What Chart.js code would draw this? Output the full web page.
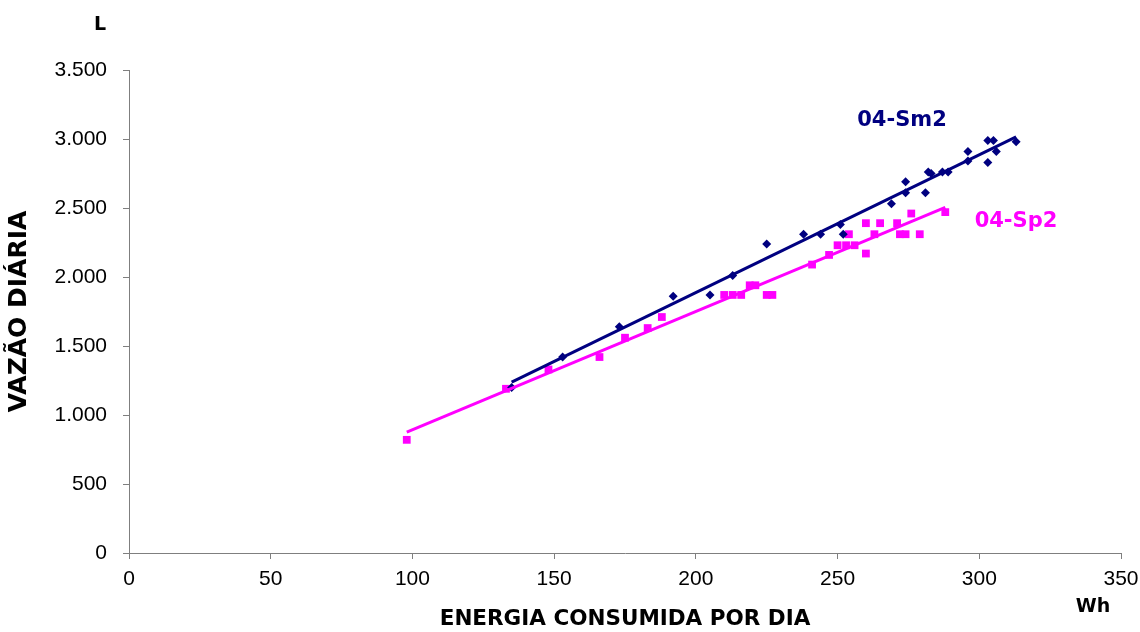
<!DOCTYPE html>
<html>
<head>
<meta charset="utf-8">
<script src="https://cdn.jsdelivr.net/npm/chart.js@4.4.1/dist/chart.umd.min.js"></script>
<style>
  html, body { margin: 0; padding: 0; background: #ffffff; }
  #wrap { width: 1140px; height: 632px; }
</style>
</head>
<body>
<div id="wrap"><canvas id="c" width="1140" height="632"></canvas></div>
<script>
// Daily flow (L) versus daily energy consumption (Wh) for two pumps
const sm2Energy = [135, 153, 173, 192, 205, 213, 225, 238, 244, 251, 252, 269, 274, 274, 281, 282, 283, 287, 289, 296, 296, 303, 305, 303, 306, 313];
const sm2Flow   = [1200, 1420, 1640, 1860, 1870, 2010, 2240, 2310, 2310, 2380, 2310, 2530, 2690, 2610, 2610, 2760, 2750, 2760, 2760, 2840, 2910, 2990, 2990, 2830, 2910, 2980];

const sp2Energy = [98, 133, 148, 166, 175, 183, 188, 210, 213, 216, 219, 221, 225, 227, 241, 247, 250, 253, 256, 254, 260, 265, 260, 263, 271, 272, 274, 279, 276, 288];
const sp2Flow   = [820, 1190, 1330, 1420, 1560, 1630, 1710, 1870, 1870, 1870, 1940, 1940, 1870, 1870, 2090, 2160, 2230, 2230, 2230, 2310, 2390, 2390, 2170, 2310, 2390, 2310, 2310, 2310, 2460, 2470];

const xTicks = [0, 50, 100, 150, 200, 250, 300, 350];
const yTicks = [0, 500, 1000, 1500, 2000, 2500, 3000, 3500];

const seriesNames = ['04-Sm2', '04-Sp2'];
const xTitle = 'ENERGIA CONSUMIDA POR DIA';
const yTitle = 'VAZÃO DIÁRIA';
const xUnit = 'Wh';
const yUnit = 'L';

const NAVY = '#000080';
const MAGENTA = '#ff00ff';

function toPoints(xs, ys) {
  return xs.map((x, i) => ({ x: x, y: ys[i] }));
}

// least-squares linear trend over the span of the data
function trend(xs, ys) {
  const n = xs.length;
  let sx = 0, sy = 0, sxx = 0, sxy = 0;
  for (let i = 0; i < n; i++) {
    sx += xs[i]; sy += ys[i]; sxx += xs[i] * xs[i]; sxy += xs[i] * ys[i];
  }
  const b = (n * sxy - sx * sy) / (n * sxx - sx * sx);
  const a = (sy - b * sx) / n;
  const lo = Math.min(...xs), hi = Math.max(...xs);
  return [{ x: lo, y: a + b * lo }, { x: hi, y: a + b * hi }];
}

function fmtThousands(v) {
  return String(v).replace(/\B(?=(\d{3})+(?!\d))/g, '.');
}

// free-standing labels: axis units and series names
const labelPlugin = {
  id: 'labels',
  afterDraw(chart) {
    const ctx = chart.ctx;
    ctx.save();
    ctx.textAlign = 'center';
    ctx.textBaseline = 'middle';
    ctx.fillStyle = '#000000';
    ctx.font = 'bold 19px "DejaVu Sans"';
    ctx.fillText(yUnit, 100, 25);
    ctx.fillText(xUnit, 1093, 607);
    ctx.font = 'bold 21px "DejaVu Sans"';
    ctx.fillStyle = NAVY;
    ctx.fillText(seriesNames[0], 902, 121);
    ctx.fillStyle = MAGENTA;
    ctx.fillText(seriesNames[1], 1016, 222);
    ctx.restore();
  }
};

new Chart(document.getElementById('c'), {
  type: 'scatter',
  data: {
    datasets: [
      {
        label: seriesNames[0] + ' trend',
        data: trend(sm2Energy, sm2Flow),
        type: 'line',
        borderColor: NAVY,
        borderWidth: 3,
        pointRadius: 0,
        fill: false
      },
      {
        label: seriesNames[1] + ' trend',
        data: trend(sp2Energy, sp2Flow),
        type: 'line',
        borderColor: MAGENTA,
        borderWidth: 3,
        pointRadius: 0,
        fill: false
      },
      {
        label: seriesNames[0],
        data: toPoints(sm2Energy, sm2Flow),
        pointStyle: 'rectRot',
        pointRadius: 4.5,
        backgroundColor: NAVY,
        borderColor: NAVY,
        borderWidth: 0
      },
      {
        label: seriesNames[1],
        data: toPoints(sp2Energy, sp2Flow),
        pointStyle: 'rect',
        pointRadius: 5.5,
        backgroundColor: MAGENTA,
        borderColor: MAGENTA,
        borderWidth: 0
      }
    ]
  },
  options: {
    responsive: false,
    animation: false,
    layout: { padding: { left: 0, top: 70, right: 19, bottom: 0 } },
    plugins: {
      legend: { display: false },
      tooltip: { enabled: false }
    },
    scales: {
      x: {
        type: 'linear',
        min: 0,
        max: 350,
        afterBuildTicks: s => { s.ticks = xTicks.map(v => ({ value: v })); },
        afterFit: s => { s.height = 79; s.paddingLeft = 0; s.paddingRight = 0; },
        border: { display: true, color: '#7f7f7f', width: 1 },
        grid: { display: true, drawOnChartArea: false, drawTicks: true, tickLength: 6, color: '#7f7f7f' },
        ticks: {
          color: '#000000',
          padding: 8,
          maxRotation: 0,
          font: { family: '"Liberation Sans", Arial, sans-serif', size: 21 },
          callback: v => fmtThousands(v)
        },
        title: {
          display: true,
          text: xTitle,
          color: '#000000',
          padding: { top: 0, bottom: 0 },
          font: { family: '"DejaVu Sans"', size: 21.5, weight: 'bold' }
        }
      },
      y: {
        type: 'linear',
        min: 0,
        max: 3500,
        afterBuildTicks: s => { s.ticks = yTicks.map(v => ({ value: v })); },
        afterFit: s => { s.width = 129; s.paddingTop = 0; s.paddingBottom = 0; },
        border: { display: true, color: '#7f7f7f', width: 1 },
        grid: { display: true, drawOnChartArea: false, drawTicks: true, tickLength: 6, color: '#7f7f7f' },
        ticks: {
          color: '#000000',
          padding: 16,
          font: { family: '"Liberation Sans", Arial, sans-serif', size: 21 },
          callback: v => fmtThousands(v)
        },
        title: {
          display: true,
          text: yTitle,
          color: '#000000',
          padding: { top: 4, bottom: 0 },
          font: { family: '"DejaVu Sans"', size: 25, weight: 'bold' }
        }
      }
    }
  },
  plugins: [labelPlugin]
});
</script>
</body>
</html>
